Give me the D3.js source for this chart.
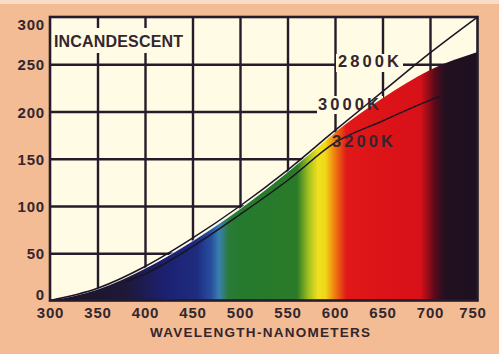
<!DOCTYPE html>
<html>
<head>
<meta charset="utf-8">
<script src="https://cdn.jsdelivr.net/npm/d3@7"></script>
<style>
body { margin: 0; background: #f4bc94; }
svg { display: block; }
.lbl, .tick text { font-family: "Liberation Sans", Arial, sans-serif; font-weight: bold; fill: #33262e; }
.grid line { stroke: #241c2a; stroke-width: 2.4; }
.grid path { display: none; }
</style>
</head>
<body>
<div id="chart"></div>
<script>
// wavelength grid (nm) and relative energy
var wavelengths = [300, 350, 400, 450, 500, 550, 600, 650, 700, 750];
var k3000 = [0, 12, 34, 63, 97, 136, 178, 214, 244, 263];   // filled spectrum
var k2800 = [0, 13, 36, 66, 100, 138, 180, 221, 262, 300];

var wl3200 = [380, 400, 450, 500, 550, 600, 650, 700, 710];
var k3200  = [20, 28, 57, 91, 127, 167, 190, 212, 216];

var xTicks = [300, 350, 400, 450, 500, 550, 600, 650, 700, 750];
var yTicks = [0, 50, 100, 150, 200, 250, 300];

// colour of the spectrum at a given wavelength
var stopWl  = [300, 380, 420, 455, 470, 478, 488, 500, 560, 572, 582, 590, 600, 612, 690, 705, 715, 750];
var stopCol = ['#1c1424', '#1e1838', '#1c2070', '#1e2c80', '#2850a0', '#3a80b0', '#2a7a38', '#267a2e',
               '#2a7a28', '#a0c020', '#f0e020', '#f0d818', '#f07a10', '#e01818', '#d81018', '#5a0a1a',
               '#221020', '#1e1020'];

var curveLabels = ['2800K', '3000K', '3200K'];

var W = 499, H = 354;
var margin = { top: 17, right: 21.5, bottom: 53.5, left: 50 };
var width  = W - margin.left - margin.right;
var height = H - margin.top - margin.bottom;

var xScale = d3.scaleLinear().domain([300, 750]).range([0, width]);
var yScale = d3.scaleLinear().domain([0, 300]).range([height, 0]);

var svg = d3.select('#chart').append('svg')
            .attr('width', W)
            .attr('height', H);

// light strip along the top edge of the card
svg.append('rect').attr('x', 0).attr('y', 0).attr('width', W).attr('height', 4).attr('fill', '#f9dcc6');

var defs = svg.append('defs');
var grad = defs.append('linearGradient')
               .attr('id', 'spectrum')
               .attr('gradientUnits', 'userSpaceOnUse')
               .attr('x1', xScale(300)).attr('x2', xScale(750))
               .attr('y1', 0).attr('y2', 0);
stopWl.forEach(function (w, i) {
    grad.append('stop')
        .attr('offset', (w - 300) / 450)
        .attr('stop-color', stopCol[i]);
});

var g = svg.append('g')
           .attr('transform', 'translate(' + margin.left + ',' + margin.top + ')');

g.append('rect')
 .attr('width', width).attr('height', height)
 .attr('fill', '#fffbe4');

// grid
g.append('g')
 .attr('class', 'grid')
 .attr('transform', 'translate(0,' + height + ')')
 .call(d3.axisBottom(xScale).tickValues(xTicks.slice(1, -1)).tickSize(-height).tickFormat(''));

g.append('g')
 .attr('class', 'grid')
 .call(d3.axisLeft(yScale).tickValues(yTicks.slice(1, -1)).tickSize(-width).tickFormat(''));

// label backgrounds that break the grid
g.append('rect').attr('x', 2).attr('y', 11).attr('width', 134).attr('height', 25).attr('fill', '#fffbe4');
g.append('rect').attr('x', 286).attr('y', 37).attr('width', 67).attr('height', 18).attr('fill', '#fffbe4');
g.append('rect').attr('x', 267).attr('y', 79).attr('width', 66).attr('height', 18).attr('fill', '#fffbe4');

// spectrum fill
var pts3000 = wavelengths.map(function (w, i) { return { w: w, v: k3000[i] }; });
var pts2800 = wavelengths.map(function (w, i) { return { w: w, v: k2800[i] }; });
var pts3200 = wl3200.map(function (w, i) { return { w: w, v: k3200[i] }; });

var area = d3.area()
             .x(function (d) { return xScale(d.w); })
             .y0(height)
             .y1(function (d) { return yScale(d.v); })
             .curve(d3.curveMonotoneX);

var line = d3.line()
             .x(function (d) { return xScale(d.w); })
             .y(function (d) { return yScale(d.v); })
             .curve(d3.curveMonotoneX);

g.append('path').datum(pts3000).attr('d', area).attr('fill', 'url(#spectrum)');
g.append('path').datum(pts3000.filter(function (d) { return d.w <= 620; }))
 .attr('d', line).attr('fill', 'none').attr('stroke', '#ffffff').attr('stroke-width', 1).attr('opacity', 0.8);

g.append('path').datum(pts2800).attr('d', line)
 .attr('fill', 'none').attr('stroke', '#1a1424').attr('stroke-width', 1.5);
g.append('path').datum(pts3200).attr('d', line)
 .attr('fill', 'none').attr('stroke', '#1a1424').attr('stroke-width', 1.5);

// frame
g.append('rect')
 .attr('width', width).attr('height', height)
 .attr('fill', 'none').attr('stroke', '#241c2a').attr('stroke-width', 2.6);

// texts inside plot
g.append('text').attr('class', 'lbl')
 .attr('x', 4).attr('y', 30)
 .attr('font-size', 16).attr('textLength', 129).attr('lengthAdjust', 'spacing')
 .text('INCANDESCENT');

var labelPos = [[288, 50], [268, 93], [282, 130]];
curveLabels.forEach(function (t, i) {
    g.append('text').attr('class', 'lbl')
     .attr('x', labelPos[i][0]).attr('y', labelPos[i][1])
     .attr('font-size', 16.5).attr('textLength', 61).attr('lengthAdjust', 'spacing')
     .text(t);
});

// axes labels
var xAx = g.append('g')
           .attr('transform', 'translate(0,' + height + ')')
           .call(d3.axisBottom(xScale).tickValues(xTicks).tickSize(0).tickPadding(0));
xAx.select('.domain').remove();
xAx.selectAll('text')
   .attr('dy', null).attr('y', 17.5)
   .attr('font-size', 15).attr('letter-spacing', 0.8)
   .attr('dx', function (d) { return d === 750 ? -5 : 0; });

var yAx = g.append('g')
           .call(d3.axisLeft(yScale).tickValues(yTicks).tickSize(0).tickPadding(5));
yAx.select('.domain').remove();
yAx.selectAll('text')
   .attr('dy', null)
   .attr('y', function (d) { return d === 300 ? 12 : (d === 0 ? -1.5 : 5.5); })
   .attr('font-size', 15).attr('letter-spacing', 0.8);

svg.append('text').attr('class', 'lbl')
   .attr('x', 150).attr('y', 337)
   .attr('font-size', 13.5).attr('textLength', 220).attr('lengthAdjust', 'spacing')
   .text('WAVELENGTH-NANOMETERS');
</script>
</body>
</html>
